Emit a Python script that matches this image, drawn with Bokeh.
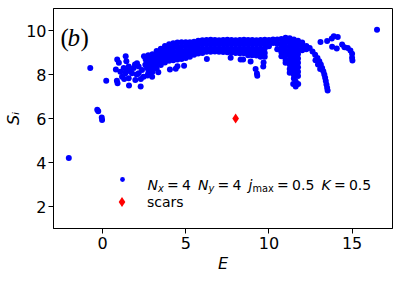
import math
from bokeh.plotting import figure
from bokeh.models import Range1d, FixedTicker, Label, Legend, LegendItem
from bokeh.embed import file_html
from bokeh.resources import INLINE

# ---------------- data ----------------
x_ticks = [0, 5, 10, 15]
y_ticks = [2, 4, 6, 8, 10]

# isolated eigenstates
iso_E = [-2.03, -0.74, 0.22, -0.32, -0.26, -0.05, -0.03, 16.5]
iso_S = [4.21, 8.30, 7.72, 6.40, 6.33, 6.05, 5.93, 10.03]

# sparse low-energy cluster
left_E = [0.88, 0.98, 1.39, 1.43, 0.80, 0.86, 0.90, 1.59, 2.29, 2.49, 2.59, 1.27, 1.57, 1.87,
          2.07, 2.17, 2.37, 2.57, 2.67, 2.87, 2.98, 2.47, 2.17, 1.77, 1.37, 1.57, 1.97, 1.07,
          1.17, 1.30, 2.30, 2.70, 1.65, 1.95, 1.45, 2.05]
left_S = [8.68, 8.53, 8.83, 8.60, 8.23, 7.72, 7.60, 7.50, 7.46, 8.83, 8.68, 8.29, 8.36, 8.29,
          8.51, 8.36, 8.21, 8.44, 8.29, 8.13, 7.90, 7.90, 8.06, 8.06, 8.06, 7.83, 7.75, 8.13,
          7.90, 7.80, 7.80, 7.95, 8.15, 8.45, 8.20, 8.00]

# dense band: column energies and the S values found in each column
band_cols = [2.75, 3.0, 3.25, 3.5, 3.75, 4.0, 4.25, 4.5, 4.75, 5.0, 5.25, 5.5, 5.75, 6.0,
             6.25, 6.5, 6.75, 7.0, 7.25, 7.5, 7.75, 8.0, 8.25, 8.5, 8.75, 9.0, 9.25,
             9.5, 9.75, 10.0, 10.25]
band_S = [
    [8.87, 8.67, 8.47, 8.27, 8.07],
    [8.92, 8.72, 8.52, 8.32, 8.12],
    [9.07, 8.87, 8.67, 8.47, 8.27],
    [9.17, 8.97, 8.77, 8.57, 8.43],
    [9.29, 9.09, 8.89, 8.69, 8.55],
    [9.37, 9.17, 8.97, 8.77, 8.63],
    [9.42, 9.22, 9.02, 8.82, 8.65],
    [9.45, 9.25, 9.05, 8.85, 8.68],
    [9.47, 9.27, 9.07, 8.89, 8.71],
    [9.47, 9.27, 9.07, 8.90, 8.75],
    [9.47, 9.29, 9.11, 8.95, 8.81],
    [9.49, 9.30, 9.10, 8.90],
    [9.53, 9.34, 9.15, 8.95],
    [9.56, 9.37, 9.17, 8.98],
    [9.57, 9.37, 9.17, 9.03],
    [9.58, 9.38, 9.18, 9.03],
    [9.57, 9.37, 9.17, 9.04],
    [9.56, 9.37, 9.17, 9.03],
    [9.57, 9.37, 9.17, 9.02],
    [9.58, 9.38, 9.18, 9.01],
    [9.57, 9.37, 9.17, 9.00],
    [9.56, 9.37, 9.17, 8.98],
    [9.57, 9.37, 9.17, 8.97],
    [9.58, 9.38, 9.17, 8.97],
    [9.57, 9.37, 9.17, 8.98, 8.88],
    [9.57, 9.37, 9.17, 8.98, 8.87],
    [9.56, 9.37, 9.17, 8.98, 8.86],
    [9.57, 9.37, 9.17, 8.98, 8.81],
    [9.58, 9.38, 9.18, 8.98, 8.81],
    [9.57, 9.40, 9.28],
    [9.59, 9.43],
]

# descending wedge near E ~ 11
wedge_cols = [10.5, 10.75, 11.0, 11.25, 11.5, 11.75, 12.0, 12.25]
wedge_S = [
    [9.59, 9.39, 9.15],
    [9.61, 9.41, 9.21, 9.01, 8.83],
    [9.67, 9.47, 9.27, 9.07, 8.87, 8.67, 8.53],
    [9.65, 9.45, 9.25, 9.05, 8.85, 8.65, 8.45, 8.25, 8.08],
    [9.59, 9.39, 9.19, 8.99, 8.79, 8.59, 8.39, 8.19, 7.99, 7.82],
    [9.53, 9.33, 9.13, 8.93, 8.73, 8.53, 8.33, 8.13, 7.93],
    [9.45, 9.27, 9.10],
    [9.30, 9.15],
]
tip_E = [11.46, 11.61, 11.76, 11.61]
tip_S = [7.57, 7.46, 7.57, 7.68]

# thin arc reaching down to E ~ 13.5
arc_E = [12.45, 12.62, 12.78, 12.92, 13.03, 13.12, 13.20, 13.27, 13.33, 13.38, 13.42, 13.46,
         13.50, 13.53, 12.80, 12.95, 13.08]
arc_S = [9.20, 9.05, 8.90, 8.75, 8.60, 8.45, 8.30, 8.15, 8.00, 7.85, 7.70, 7.55,
         7.40, 7.27, 8.65, 8.45, 8.25]

# states just below the band
under_E = [3.35, 4.05, 4.40, 4.50, 4.90, 6.27, 7.70, 8.30, 8.45, 8.90, 9.20, 9.28, 9.30,
           9.66, 9.68]
under_S = [8.10, 8.23, 8.26, 8.38, 8.40, 8.71, 8.76, 8.68, 8.68, 8.59, 8.25, 8.05, 7.94,
           8.36, 8.54]

# high-energy stragglers
right_E = [13.10, 13.50, 13.78, 13.90, 14.14, 13.80, 14.08, 14.40, 14.54, 14.74, 14.90,
           15.00, 15.00, 15.02]
right_S = [9.48, 9.52, 9.64, 9.74, 9.70, 9.26, 9.18, 9.36, 9.24, 9.21, 9.09, 8.94, 8.76,
           8.64]

# scar state
scar_E = [8.0]
scar_S = [6.0]

# ---------------- assemble ----------------
def flatten(cols, vals):
    xs, ys = [], []
    for c, col in zip(cols, vals):
        for v in col:
            xs.append(c)
            ys.append(v)
    return xs, ys

bE, bS = flatten(band_cols, band_S)
wE, wS = flatten(wedge_cols, wedge_S)
all_E = iso_E + left_E + bE + wE + tip_E + arc_E + under_E + right_E
all_S = iso_S + left_S + bS + wS + tip_S + arc_S + under_S + right_S

p = figure(width=395, height=282, output_backend="svg", toolbar_location=None,
           x_range=Range1d(-2.95, 17.43), y_range=Range1d(1, 11),
           min_border_left=53, min_border_right=3, min_border_top=8, min_border_bottom=54)
p.background_fill_color = "white"
p.border_fill_color = "white"
p.outline_line_color = "black"
p.outline_line_width = 1
p.xgrid.visible = False
p.ygrid.visible = False

for ax in (p.xaxis, p.yaxis):
    ax.axis_line_color = "black"
    ax.major_tick_line_color = "black"
    ax.major_tick_out = 5
    ax.major_tick_in = 0
    ax.minor_tick_out = 0
    ax.minor_tick_in = 0
    ax.major_label_text_font = "DejaVu Sans"
    ax.major_label_text_font_size = "16px"
    ax.major_label_text_color = "black"
    ax.major_label_standoff = 3
    ax.axis_label_text_font = "DejaVu Sans"
    ax.axis_label_text_font_style = "italic"
    ax.axis_label_text_font_size = "16px"
    ax.axis_label_text_color = "black"
p.xaxis.ticker = FixedTicker(ticks=x_ticks)
p.yaxis.ticker = FixedTicker(ticks=y_ticks)
p.xaxis.axis_label = "E"
p.xaxis.axis_label_standoff = 2
p.yaxis.axis_label = "S\u1d62"
p.yaxis.axis_label_standoff = 0
p.yaxis.major_label_standoff = 2

r_cloud = p.scatter(x=all_E, y=all_S, size=6, marker="circle", fill_color="blue",
                    line_color=None)
r_scar = p.scatter(x=scar_E, y=scar_S, size=10, marker="diamond", fill_color="red",
                   line_color=None)

# legends (markers), frame-relative positions
leg1 = Legend(items=[LegendItem(label=" ", renderers=[r_cloud])], location=(63, 43),
              glyph_width=12, glyph_height=12, label_height=12, label_width=1,
              label_text_font_size="1px", padding=0, margin=0, spacing=0,
              border_line_alpha=0, background_fill_alpha=0, label_standoff=0)
leg2 = Legend(items=[LegendItem(label="scars", renderers=[r_scar])], location=(56, 14),
              glyph_width=25, glyph_height=25, label_height=25,
              label_text_font="DejaVu Sans", label_text_font_size="14px",
              label_text_color="black", padding=0, margin=0, spacing=0,
              border_line_alpha=0, background_fill_alpha=0, label_standoff=13)
p.add_layout(leg1)
p.add_layout(leg2)

FL, FB = 53, 228  # canvas coords of frame left / bottom

def txt(s, px, py, size, style="normal", font="DejaVu Sans"):
    p.add_layout(Label(x=px - FL, y=FB - py, x_units="screen", y_units="screen", text=s,
                       text_font=font, text_font_size=f"{size}px", text_font_style=style,
                       text_color="black", text_baseline="alphabetic", text_align="left"))

# legend text with subscripts (mathtext-like spacing)
base, sub = 184, 187.5
txt("N", 147, base, 14, "italic")
txt("x", 157.5, sub, 9.8, "italic")
txt("=", 166.6, base, 14)
txt("4", 181.6, base, 14)
txt("N", 197.5, base, 14, "italic")
txt("y", 208, sub, 9.8, "italic")
txt("=", 217.1, base, 14)
txt("4", 232.1, base, 14)
txt("j", 248, base, 14, "italic")
txt("max", 251.9, sub, 9.8)
txt("=", 276.6, base, 14)
txt("0.5", 291.6, base, 14)
txt("K", 320.9, base, 14, "italic")
txt("=", 333.4, base, 14)
txt("0.5", 348.4, base, 14)

# panel tag: upright parentheses, italic b
txt("(", 60, 37, 25, "normal", font="Liberation Serif")
txt("b", 67, 37, 25, "italic", font="Liberation Serif")
txt(")", 80, 37, 25, "normal", font="Liberation Serif")

open("out.html", "w").write(file_html(p, INLINE))
